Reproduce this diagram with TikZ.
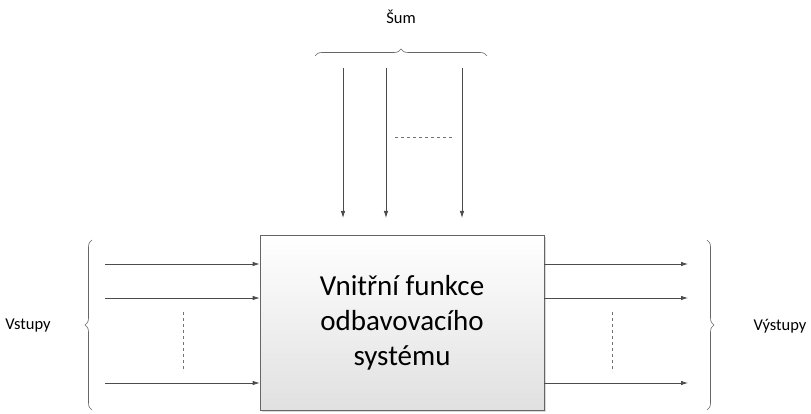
\documentclass[tikz,border=0pt]{standalone}
\usepackage{fontspec}
\setmainfont{Carlito}
\usetikzlibrary{decorations.pathreplacing,shadows,arrows.meta}
\begin{document}
\begin{tikzpicture}[x=1pt,y=-1pt,
  arr/.style={draw=black!70,line width=0.8pt,-{Latex[length=7pt,width=4.5pt]}},
  dsh/.style={draw=black!55,dashed,line width=0.7pt},
  brc/.style={draw=black!60,line width=0.6pt,decorate,decoration={brace,amplitude=7pt}},
  lbl/.style={font=\fontsize{16.5}{19}\selectfont}]
\useasboundingbox (0,0) rectangle (811,414);
\node[draw=black!60,line width=0.6pt,top color=white,bottom color=black!12,minimum width=284pt,minimum height=175pt,drop shadow={shadow xshift=1.5pt,shadow yshift=-1.5pt,opacity=0.3},align=center,font=\fontsize{29}{35}\selectfont] (box) at (402,322.5) {Vnitřní funkce\\odbavovacího\\systému};
\foreach \y/\n in {264/a,298/b,383/c}{
  \coordinate (i\n) at (105,\y);
  \draw[arr] (i\n) -- (box.west |- i\n);
  \coordinate (o\n) at (688,\y);
  \draw[arr] (box.east |- o\n) -- (o\n);}
\foreach \x/\n in {343/a,386/b,462/c}{
  \coordinate (t\n) at (\x,68);
  \draw[arr] (t\n) -- (\x,218);}
\coordinate (d1) at (183,312); \coordinate (d2) at (183,372);
\draw[dsh] (d1) -- (d2);
\coordinate (d3) at (612,312); \coordinate (d4) at (612,372);
\draw[dsh] (d3) -- (d4);
\coordinate (d5) at (395,137); \coordinate (d6) at (455,137);
\draw[dsh] (d5) -- (d6);
\draw[brc] (92,410) -- (92,240);
\draw[brc] (707,240) -- (707,410);
\draw[brc] (315,56) -- (487,56);
\node[lbl] (vst) at (28,326) {Vstupy};
\node[lbl] (vys) at (780,326) {Výstupy};
\node[lbl] (sum) at (401,17) {Šum};
\end{tikzpicture}
\end{document}
